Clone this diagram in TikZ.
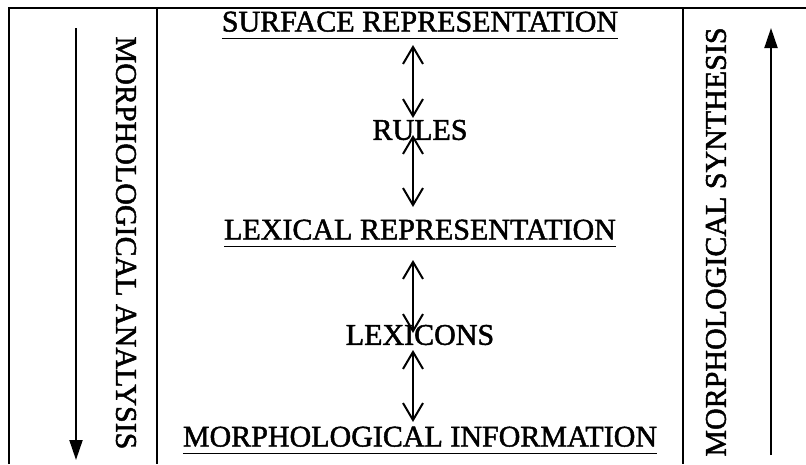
\documentclass[tikz,border=0pt]{standalone}
\usepackage{fontspec}
\setmainfont{Liberation Serif}
\newfontfamily\heavyserif[FakeBold=1.6]{Liberation Serif}
\usetikzlibrary{arrows.meta}
% underline set a little lower than the default
\newcommand\uline[1]{\underline{\vphantom{Q}#1}}
\begin{document}
\begin{tikzpicture}[x=1pt,y=-1pt,
  frame/.style={line width=2.6pt},
  label/.style={font=\fontsize{30}{34}\heavyserif, inner sep=0pt},
  both/.style={line width=2pt, {Straight Barb[length=17pt,width=20pt,line width=2pt]}-{Straight Barb[length=17pt,width=20pt,line width=2pt]}},
  flow/.style={line width=2pt, -{Triangle[length=20pt,width=13pt]}}]
\useasboundingbox (0,0) rectangle (806,464);

% frame and column dividers
\draw[frame] (9,464) -- (9,8) -- (806,8);
\draw[frame] (157,8) -- (157,464);
\draw[frame] (683,8) -- (683,464);

% level labels
\node[label] (surf) at (420,25) {\uline{SURFACE REPRESENTATION}};
\node[label] (rules) at (420,130) {RULES};
\node[label] (lex) at (420,233) {\uline{LEXICAL REPRESENTATION}};
\node[label] (lexicons) at (420,335) {LEXICONS};
\node[label] (info) at (420,440) {\uline{MORPHOLOGICAL INFORMATION}};

% arrow end points between the levels
\coordinate (a1) at (413,45);  \coordinate (b1) at (413,118);
\coordinate (a2) at (413,135); \coordinate (b2) at (413,207);
\coordinate (a3) at (413,260); \coordinate (b3) at (413,333);
\coordinate (a4) at (413,350); \coordinate (b4) at (413,422);
\draw[both] (a1) -- (b1);
\draw[both] (a2) -- (b2);
\draw[both] (a3) -- (b3);
\draw[both] (a4) -- (b4);

% side columns
\node[label, rotate=-90] (analysis) at (126,243) {MORPHOLOGICAL ANALYSIS};
\node[label, rotate=90] (synthesis) at (716,242) {MORPHOLOGICAL SYNTHESIS};
\coordinate (ltop) at (76,28);  \coordinate (lbot) at (76,460);
\coordinate (rbot) at (771,455); \coordinate (rtop) at (771,28);
\draw[flow] (ltop) -- (lbot);
\draw[flow] (rbot) -- (rtop);
\end{tikzpicture}
\end{document}
